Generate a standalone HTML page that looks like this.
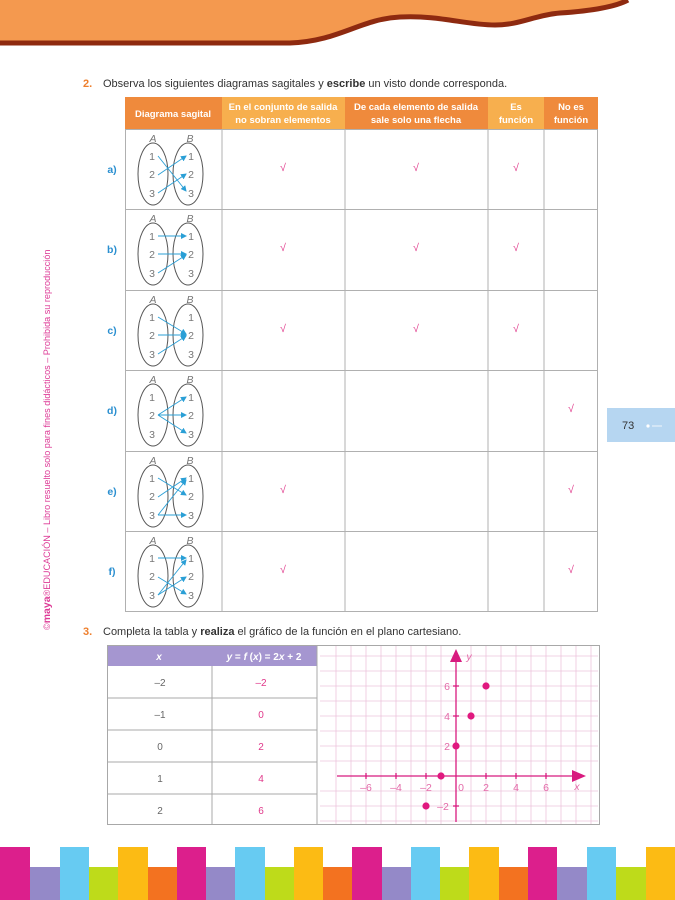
<!DOCTYPE html>
<html><head><meta charset="utf-8"><style>
html,body{margin:0;padding:0;background:#fff}
body{width:675px;height:900px;position:relative;overflow:hidden;font-family:"Liberation Sans",sans-serif}
svg{position:absolute;left:0;top:0}
</style></head><body>
<svg width="675" height="900" viewBox="0 0 675 900" font-family="Liberation Sans, sans-serif">
<!-- header -->
<path d="M0,0 H628 C615,6 590,10 560,12 C535,14 520,24 495,24 C465,24 440,14 400,16 C360,18 340,40 290,42 L0,42 Z" fill="#F4994F"/>
<path d="M0,43 L290,43 C340,41 360,19 400,17 C440,15 465,25 495,25 C520,25 535,15 560,13 C590,11 615,7 628,0" fill="none" stroke="#8E2A10" stroke-width="5"/>

<!-- side text -->
<text transform="translate(50,630) rotate(-90)" font-size="9.1" fill="#DD3A96">©<tspan font-weight="bold" font-size="10.5">maya</tspan>®EDUCACIÓN – Libro resuelto solo para fines didácticos – Prohibida su reproducción</text>

<!-- page number -->
<rect x="607" y="408" width="68" height="34" fill="#B6D6F1"/>
<text x="622" y="429" font-size="11" fill="#333">73</text>
<circle cx="648" cy="426" r="1.6" fill="#fff"/><line x1="652" y1="426" x2="662" y2="426" stroke="#fff" stroke-width="0.8"/>

<!-- q2 -->
<text x="83" y="87" font-size="11" fill="#333"><tspan fill="#EE7F2D" font-weight="bold">2.</tspan><tspan x="103">Observa</tspan> los siguientes diagramas sagitales y <tspan font-weight="bold">escribe</tspan> un visto donde corresponda.</text>

<!-- table header -->
<rect x="125" y="97" width="97" height="32" fill="#EF8A3C"/>
<rect x="222" y="97" width="123" height="32" fill="#F7AF4E"/>
<rect x="345" y="97" width="143" height="32" fill="#EF8A3C"/>
<rect x="488" y="97" width="56" height="32" fill="#F7AF4E"/>
<rect x="544" y="97" width="54" height="32" fill="#EF8A3C"/>
<g fill="#fff" font-size="9.5" font-weight="bold" text-anchor="middle">
<text x="173" y="117">Diagrama sagital</text>
<text x="283" y="110">En el conjunto de salida</text><text x="283" y="123">no sobran elementos</text>
<text x="416" y="110">De cada elemento de salida</text><text x="416" y="123">sale solo una flecha</text>
<text x="516" y="110">Es</text><text x="516" y="123">función</text>
<text x="571" y="110">No es</text><text x="571" y="123">función</text>
</g>
<!-- grid -->
<g stroke="#B0B0B0" stroke-width="1" fill="none">
<rect x="125.5" y="129.5" width="472" height="482"/>
<line x1="222" y1="129" x2="222" y2="612"/><line x1="345" y1="129" x2="345" y2="612"/>
<line x1="488" y1="129" x2="488" y2="612"/><line x1="544" y1="129" x2="544" y2="612"/>
<line x1="125" y1="209.5" x2="598" y2="209.5"/><line x1="125" y1="290.5" x2="598" y2="290.5"/>
<line x1="125" y1="370.5" x2="598" y2="370.5"/><line x1="125" y1="451.5" x2="598" y2="451.5"/>
<line x1="125" y1="531.5" x2="598" y2="531.5"/>
</g>
<defs><marker id="ah" markerWidth="6" markerHeight="6" refX="5" refY="3" orient="auto" markerUnits="userSpaceOnUse"><path d="M0,0 L6,3 L0,6 Z" fill="#2A9FD6"/></marker></defs>

<!-- rows -->
<g font-size="10.5" fill="#777" text-anchor="middle">
<g transform="translate(0,129)">
<text x="112" y="44" fill="#2A8FD0" font-weight="bold">a)</text>
<text x="153" y="13" font-style="italic">A</text><text x="190" y="13" font-style="italic">B</text>
<ellipse cx="153" cy="45" rx="15" ry="31" fill="none" stroke="#555"/><ellipse cx="188" cy="45" rx="15" ry="31" fill="none" stroke="#555"/>
<text x="152" y="31">1</text><text x="152" y="49">2</text><text x="152" y="68">3</text>
<text x="191" y="31">1</text><text x="191" y="49">2</text><text x="191" y="68">3</text>
<g stroke="#2A9FD6" stroke-width="0.9" marker-end="url(#ah)"><line x1="158" y1="27" x2="186" y2="62"/><line x1="158" y1="46" x2="186" y2="27"/><line x1="158" y1="64" x2="186" y2="45"/></g>
<text x="283" y="42" fill="#E0388A">√</text><text x="416" y="42" fill="#E0388A">√</text><text x="516" y="42" fill="#E0388A">√</text>
</g>
<g transform="translate(0,209)">
<text x="112" y="44" fill="#2A8FD0" font-weight="bold">b)</text>
<text x="153" y="13" font-style="italic">A</text><text x="190" y="13" font-style="italic">B</text>
<ellipse cx="153" cy="45" rx="15" ry="31" fill="none" stroke="#555"/><ellipse cx="188" cy="45" rx="15" ry="31" fill="none" stroke="#555"/>
<text x="152" y="31">1</text><text x="152" y="49">2</text><text x="152" y="68">3</text>
<text x="191" y="31">1</text><text x="191" y="49">2</text><text x="191" y="68">3</text>
<g stroke="#2A9FD6" stroke-width="0.9" marker-end="url(#ah)"><line x1="158" y1="27" x2="186" y2="27"/><line x1="158" y1="45" x2="186" y2="45"/><line x1="158" y1="64" x2="186" y2="46"/></g>
<text x="283" y="42" fill="#E0388A">√</text><text x="416" y="42" fill="#E0388A">√</text><text x="516" y="42" fill="#E0388A">√</text>
</g>
<g transform="translate(0,290)">
<text x="112" y="44" fill="#2A8FD0" font-weight="bold">c)</text>
<text x="153" y="13" font-style="italic">A</text><text x="190" y="13" font-style="italic">B</text>
<ellipse cx="153" cy="45" rx="15" ry="31" fill="none" stroke="#555"/><ellipse cx="188" cy="45" rx="15" ry="31" fill="none" stroke="#555"/>
<text x="152" y="31">1</text><text x="152" y="49">2</text><text x="152" y="68">3</text>
<text x="191" y="31">1</text><text x="191" y="49">2</text><text x="191" y="68">3</text>
<g stroke="#2A9FD6" stroke-width="0.9" marker-end="url(#ah)"><line x1="158" y1="27" x2="186" y2="44"/><line x1="158" y1="45" x2="186" y2="45"/><line x1="158" y1="64" x2="186" y2="46"/></g>
<text x="283" y="42" fill="#E0388A">√</text><text x="416" y="42" fill="#E0388A">√</text><text x="516" y="42" fill="#E0388A">√</text>
</g>
<g transform="translate(0,370)">
<text x="112" y="44" fill="#2A8FD0" font-weight="bold">d)</text>
<text x="153" y="13" font-style="italic">A</text><text x="190" y="13" font-style="italic">B</text>
<ellipse cx="153" cy="45" rx="15" ry="31" fill="none" stroke="#555"/><ellipse cx="188" cy="45" rx="15" ry="31" fill="none" stroke="#555"/>
<text x="152" y="31">1</text><text x="152" y="49">2</text><text x="152" y="68">3</text>
<text x="191" y="31">1</text><text x="191" y="49">2</text><text x="191" y="68">3</text>
<g stroke="#2A9FD6" stroke-width="0.9" marker-end="url(#ah)"><line x1="158" y1="45" x2="186" y2="27"/><line x1="158" y1="45" x2="186" y2="45"/><line x1="158" y1="45" x2="186" y2="63"/></g>
<text x="571" y="42" fill="#E0388A">√</text>
</g>
<g transform="translate(0,451)">
<text x="112" y="44" fill="#2A8FD0" font-weight="bold">e)</text>
<text x="153" y="13" font-style="italic">A</text><text x="190" y="13" font-style="italic">B</text>
<ellipse cx="153" cy="45" rx="15" ry="31" fill="none" stroke="#555"/><ellipse cx="188" cy="45" rx="15" ry="31" fill="none" stroke="#555"/>
<text x="152" y="31">1</text><text x="152" y="49">2</text><text x="152" y="68">3</text>
<text x="191" y="31">1</text><text x="191" y="49">2</text><text x="191" y="68">3</text>
<g stroke="#2A9FD6" stroke-width="0.9" marker-end="url(#ah)"><line x1="158" y1="27" x2="186" y2="44"/><line x1="158" y1="46" x2="186" y2="27"/><line x1="158" y1="64" x2="186" y2="29"/><line x1="158" y1="64" x2="186" y2="64"/></g>
<text x="283" y="42" fill="#E0388A">√</text><text x="571" y="42" fill="#E0388A">√</text>
</g>
<g transform="translate(0,531)">
<text x="112" y="44" fill="#2A8FD0" font-weight="bold">f)</text>
<text x="153" y="13" font-style="italic">A</text><text x="190" y="13" font-style="italic">B</text>
<ellipse cx="153" cy="45" rx="15" ry="31" fill="none" stroke="#555"/><ellipse cx="188" cy="45" rx="15" ry="31" fill="none" stroke="#555"/>
<text x="152" y="31">1</text><text x="152" y="49">2</text><text x="152" y="68">3</text>
<text x="191" y="31">1</text><text x="191" y="49">2</text><text x="191" y="68">3</text>
<g stroke="#2A9FD6" stroke-width="0.9" marker-end="url(#ah)"><line x1="158" y1="27" x2="186" y2="27"/><line x1="158" y1="46" x2="186" y2="63"/><line x1="158" y1="64" x2="186" y2="29"/><line x1="158" y1="64" x2="186" y2="46"/></g>
<text x="283" y="42" fill="#E0388A">√</text><text x="571" y="42" fill="#E0388A">√</text>
</g>
</g>

<!-- q3 -->
<text x="83" y="635" font-size="11" fill="#333"><tspan fill="#EE7F2D" font-weight="bold">3.</tspan><tspan x="103">Completa</tspan> la tabla y <tspan font-weight="bold">realiza</tspan> el gráfico de la función en el plano cartesiano.</text>
<rect x="107" y="645" width="210" height="21" fill="#A596D0"/>
<text x="159" y="660" font-size="10" fill="#fff" font-weight="bold" font-style="italic" text-anchor="middle">x</text>
<text x="264" y="660" font-size="10" fill="#fff" font-weight="bold" text-anchor="middle"><tspan font-style="italic">y</tspan> = <tspan font-style="italic">f</tspan> (<tspan font-style="italic">x</tspan>) = 2<tspan font-style="italic">x</tspan> + 2</text>
<g stroke="#A8A8A8" fill="none">
<rect x="107.5" y="645.5" width="492" height="179"/>
<line x1="212" y1="666" x2="212" y2="824"/><line x1="317" y1="645" x2="317" y2="824"/>
<line x1="107" y1="698" x2="317" y2="698"/><line x1="107" y1="730" x2="317" y2="730"/>
<line x1="107" y1="762" x2="317" y2="762"/><line x1="107" y1="794" x2="317" y2="794"/>
</g>
<g font-size="10" text-anchor="middle" fill="#666">
<text x="160" y="686">–2</text><text x="160" y="718">–1</text><text x="160" y="750">0</text><text x="160" y="782">1</text><text x="160" y="814">2</text>
</g>
<g font-size="10" text-anchor="middle" fill="#E0388A">
<text x="261" y="686">–2</text><text x="261" y="718">0</text><text x="261" y="750">2</text><text x="261" y="782">4</text><text x="261" y="814">6</text>
</g>
<!-- cartesian grid -->
<g stroke="#EDC4DC" stroke-width="0.8">
<line x1="336" y1="646" x2="336" y2="824"/><line x1="351" y1="646" x2="351" y2="824"/><line x1="366" y1="646" x2="366" y2="824"/><line x1="381" y1="646" x2="381" y2="824"/><line x1="396" y1="646" x2="396" y2="824"/><line x1="411" y1="646" x2="411" y2="824"/><line x1="426" y1="646" x2="426" y2="824"/><line x1="441" y1="646" x2="441" y2="824"/><line x1="471" y1="646" x2="471" y2="824"/><line x1="486" y1="646" x2="486" y2="824"/><line x1="501" y1="646" x2="501" y2="824"/><line x1="516" y1="646" x2="516" y2="824"/><line x1="531" y1="646" x2="531" y2="824"/><line x1="546" y1="646" x2="546" y2="824"/><line x1="561" y1="646" x2="561" y2="824"/><line x1="576" y1="646" x2="576" y2="824"/><line x1="591" y1="646" x2="591" y2="824"/>
<line x1="320" y1="656" x2="598" y2="656"/><line x1="320" y1="671" x2="598" y2="671"/><line x1="320" y1="686" x2="598" y2="686"/><line x1="320" y1="701" x2="598" y2="701"/><line x1="320" y1="716" x2="598" y2="716"/><line x1="320" y1="731" x2="598" y2="731"/><line x1="320" y1="746" x2="598" y2="746"/><line x1="320" y1="761" x2="598" y2="761"/><line x1="320" y1="791" x2="598" y2="791"/><line x1="320" y1="806" x2="598" y2="806"/><line x1="320" y1="821" x2="598" y2="821"/>
</g>
<g stroke="#D81B7F" stroke-width="1.3">
<line x1="337" y1="776" x2="578" y2="776"/><line x1="456" y1="822" x2="456" y2="660"/>
<line x1="366" y1="773" x2="366" y2="779"/><line x1="396" y1="773" x2="396" y2="779"/><line x1="426" y1="773" x2="426" y2="779"/><line x1="486" y1="773" x2="486" y2="779"/><line x1="516" y1="773" x2="516" y2="779"/><line x1="546" y1="773" x2="546" y2="779"/>
<line x1="453" y1="686" x2="459" y2="686"/><line x1="453" y1="716" x2="459" y2="716"/><line x1="453" y1="746" x2="459" y2="746"/><line x1="453" y1="806" x2="459" y2="806"/>
</g>
<path d="M572,770 L586,776 L572,782 Z" fill="#D81B7F"/>
<path d="M450,662 L456,649 L462,662 Z" fill="#D81B7F"/>
<g font-size="10.5" fill="#E36AA8" text-anchor="middle">
<text x="366" y="791">–6</text><text x="396" y="791">–4</text><text x="426" y="791">–2</text><text x="461" y="791">0</text><text x="486" y="791">2</text><text x="516" y="791">4</text><text x="546" y="791">6</text>
<text x="447" y="690">6</text><text x="447" y="720">4</text><text x="447" y="750">2</text><text x="443" y="810">–2</text>
<text x="577" y="790" font-style="italic">x</text><text x="469" y="660" font-style="italic">y</text>
</g>
<g fill="#E0197F">
<circle cx="486" cy="686" r="3.6"/><circle cx="471" cy="716" r="3.6"/><circle cx="456" cy="746" r="3.6"/><circle cx="441" cy="776" r="3.6"/><circle cx="426" cy="806" r="3.6"/>
</g>

<!-- stripes -->
<g>
<rect x="0" y="847" width="30" height="53" fill="#DC1F8C"/>
<rect x="30" y="867" width="30" height="33" fill="#9489C8"/>
<rect x="60" y="847" width="29" height="53" fill="#67CBF2"/>
<rect x="89" y="867" width="29" height="33" fill="#BEDB1A"/>
<rect x="118" y="847" width="30" height="53" fill="#FCBB14"/>
<rect x="148" y="867" width="29" height="33" fill="#F37220"/>
<rect x="177" y="847" width="29" height="53" fill="#DC1F8C"/>
<rect x="206" y="867" width="29" height="33" fill="#9489C8"/>
<rect x="235" y="847" width="30" height="53" fill="#67CBF2"/>
<rect x="265" y="867" width="29" height="33" fill="#BEDB1A"/>
<rect x="294" y="847" width="29" height="53" fill="#FCBB14"/>
<rect x="323" y="867" width="29" height="33" fill="#F37220"/>
<rect x="352" y="847" width="30" height="53" fill="#DC1F8C"/>
<rect x="382" y="867" width="29" height="33" fill="#9489C8"/>
<rect x="411" y="847" width="29" height="53" fill="#67CBF2"/>
<rect x="440" y="867" width="29" height="33" fill="#BEDB1A"/>
<rect x="469" y="847" width="30" height="53" fill="#FCBB14"/>
<rect x="499" y="867" width="29" height="33" fill="#F37220"/>
<rect x="528" y="847" width="29" height="53" fill="#DC1F8C"/>
<rect x="557" y="867" width="30" height="33" fill="#9489C8"/>
<rect x="587" y="847" width="29" height="53" fill="#67CBF2"/>
<rect x="616" y="867" width="30" height="33" fill="#BEDB1A"/>
<rect x="646" y="847" width="29" height="53" fill="#FCBB14"/>
</g>
</svg>
</body></html>
